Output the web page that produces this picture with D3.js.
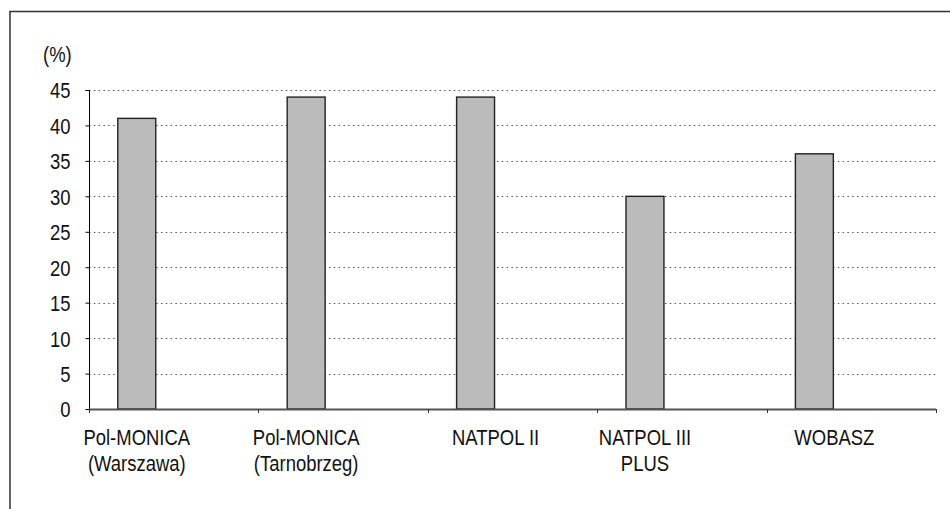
<!DOCTYPE html>
<html>
<head>
<meta charset="utf-8">
<script src="https://cdn.jsdelivr.net/npm/d3@7"></script>
<style>
  html, body { margin: 0; padding: 0; background: #fff; }
  svg { display: block; }
  text { font-family: "Liberation Sans", Arial, sans-serif; fill: #111; }
</style>
</head>
<body>
<svg id="chart" width="950" height="509"></svg>
<script>
// Study names (line breaks split the two-line labels)
const categories = [
  "Pol-MONICA\n(Warszawa)",
  "Pol-MONICA\n(Tarnobrzeg)",
  "NATPOL II",
  "NATPOL III\nPLUS",
  "WOBASZ"
];
// Percentage per study
const values = [41, 44, 44, 30, 36];
// Y axis ticks
const yTicks = [0, 5, 10, 15, 20, 25, 30, 35, 40, 45];
const yUnit = "(%)";

(function () {
  const svg = d3.select("#chart");
  const W = 950, H = 509;
  const FS = 22;      // label font size
  const NARROW = 0.84; // horizontal squeeze for a narrow face

  // Outer frame (extends past the right and bottom edges)
  svg.append("rect")
    .attr("x", 10).attr("y", 11.5)
    .attr("width", W + 20).attr("height", H + 20)
    .attr("fill", "none").attr("stroke", "#333").attr("stroke-width", 1.5);

  const pLeft = 89, pRight = 936, pTop = 90, pBottom = 409;

  const x = d3.scaleBand().domain(categories).range([pLeft, pRight]).paddingInner(0).paddingOuter(0);
  const y = d3.scaleLinear().domain([0, 45]).range([pBottom, pTop]);

  // Dotted horizontal gridlines
  svg.append("g")
    .selectAll("line")
    .data(yTicks.filter(t => t > 0))
    .join("line")
    .attr("x1", pLeft).attr("x2", pRight)
    .attr("y1", d => Math.round(y(d)) + 0.5).attr("y2", d => Math.round(y(d)) + 0.5)
    .attr("stroke", "#555").attr("stroke-width", 1)
    .attr("stroke-dasharray", "1.5,3.3");

  // Bars (sit left of each category centre, leaving room in the slot)
  const bw = x.bandwidth();
  svg.append("g")
    .selectAll("rect")
    .data(values)
    .join("rect")
    .attr("x", (d, i) => x(categories[i]) + bw * 0.17)
    .attr("width", bw * 0.224)
    .attr("y", d => y(d))
    .attr("height", d => y(0) - y(d))
    .attr("fill", "#bbbbbb")
    .attr("stroke", "#222")
    .attr("stroke-width", 1.4);

  // Y axis
  const yAxis = d3.axisLeft(y).tickValues(yTicks).tickSize(4).tickPadding(19);
  const gy = svg.append("g").attr("transform", `translate(${pLeft + 0.5},0)`).call(yAxis);
  gy.select(".domain").attr("stroke", "#000").attr("d", `M-4,${pTop + 0.5}H0V${pBottom}`);
  gy.selectAll(".tick line").attr("stroke", "#000");
  gy.attr("font-family", null).attr("font-size", null);
  gy.selectAll(".tick text")
    .attr("font-size", FS)
    .attr("fill", "#111")
    .attr("dy", "0.36em")
    .attr("x", -19 / NARROW)
    .attr("transform", `scale(${NARROW},1)`);

  // X axis baseline with boundary ticks between categories
  const gx = svg.append("g");
  gx.append("line")
    .attr("x1", pLeft).attr("x2", pRight)
    .attr("y1", pBottom + 0.5).attr("y2", pBottom + 0.5)
    .attr("stroke", "#555").attr("stroke-width", 2);
  const boundaries = categories.map(c => x(c)).concat([pRight]);
  gx.selectAll("line.tk")
    .data(boundaries)
    .join("line")
    .attr("class", "tk")
    .attr("x1", d => Math.round(d) + 0.5).attr("x2", d => Math.round(d) + 0.5)
    .attr("y1", pBottom).attr("y2", pBottom + 4)
    .attr("stroke", "#333").attr("stroke-width", 1);

  // Category labels
  const labelNudge = { "NATPOL II": 20, "WOBASZ": 20 };
  const lbl = svg.append("g")
    .selectAll("text")
    .data(categories)
    .join("text")
    .attr("text-anchor", "middle")
    .attr("font-size", FS)
    .attr("transform", c => `translate(${x(c) + bw * 0.282 + (labelNudge[c] || 0)},445) scale(${NARROW},1)`);
  lbl.selectAll("tspan")
    .data(c => c.split("\n"))
    .join("tspan")
    .attr("x", 0)
    .attr("y", (d, i) => i * 26)
    .text(d => d);

  // Unit label
  svg.append("text")
    .attr("transform", `translate(43,62) scale(${NARROW},1)`)
    .attr("font-size", FS)
    .text(yUnit);
})();
</script>
</body>
</html>
